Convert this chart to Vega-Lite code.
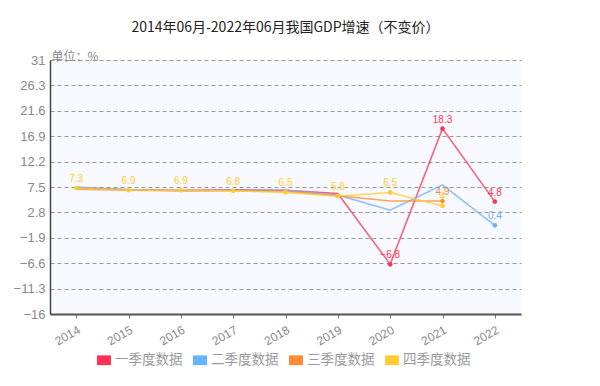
{
  "$schema": "https://vega.github.io/schema/vega-lite/v6.json",
  "width": 471,
  "height": 254,
  "autosize": {"type": "none"},
  "padding": {"left": 50, "top": 60, "right": 79, "bottom": 72},
  "background": "#ffffff",
  "title": {
    "text": "2014年06月-2022年06月我国GDP增速（不变价）",
    "font": "Noto Sans CJK SC",
    "fontSize": 14,
    "fontWeight": "normal",
    "color": "#222222",
    "anchor": "middle",
    "offset": 15
  },
  "data": {
    "values": [
      {"year": 2014, "s": "一季度数据", "v": 7.4},
      {"year": 2015, "s": "一季度数据", "v": 7.0},
      {"year": 2016, "s": "一季度数据", "v": 6.9},
      {"year": 2017, "s": "一季度数据", "v": 7.0},
      {"year": 2018, "s": "一季度数据", "v": 6.9},
      {"year": 2019, "s": "一季度数据", "v": 6.3},
      {"year": 2020, "s": "一季度数据", "v": -6.8},
      {"year": 2021, "s": "一季度数据", "v": 18.3},
      {"year": 2022, "s": "一季度数据", "v": 4.8},
      {"year": 2014, "s": "二季度数据", "v": 7.5},
      {"year": 2015, "s": "二季度数据", "v": 7.0},
      {"year": 2016, "s": "二季度数据", "v": 6.8},
      {"year": 2017, "s": "二季度数据", "v": 6.9},
      {"year": 2018, "s": "二季度数据", "v": 6.9},
      {"year": 2019, "s": "二季度数据", "v": 6.0},
      {"year": 2020, "s": "二季度数据", "v": 3.2},
      {"year": 2021, "s": "二季度数据", "v": 7.9},
      {"year": 2022, "s": "二季度数据", "v": 0.4},
      {"year": 2014, "s": "三季度数据", "v": 7.1},
      {"year": 2015, "s": "三季度数据", "v": 6.9},
      {"year": 2016, "s": "三季度数据", "v": 6.8},
      {"year": 2017, "s": "三季度数据", "v": 6.8},
      {"year": 2018, "s": "三季度数据", "v": 6.7},
      {"year": 2019, "s": "三季度数据", "v": 5.9},
      {"year": 2020, "s": "三季度数据", "v": 4.9},
      {"year": 2021, "s": "三季度数据", "v": 4.9},
      {"year": 2014, "s": "四季度数据", "v": 7.3},
      {"year": 2015, "s": "四季度数据", "v": 6.9},
      {"year": 2016, "s": "四季度数据", "v": 6.9},
      {"year": 2017, "s": "四季度数据", "v": 6.8},
      {"year": 2018, "s": "四季度数据", "v": 6.5},
      {"year": 2019, "s": "四季度数据", "v": 5.8},
      {"year": 2020, "s": "四季度数据", "v": 6.5},
      {"year": 2021, "s": "四季度数据", "v": 4.0}
    ]
  },
  "encoding": {
    "x": {
      "field": "year",
      "type": "ordinal",
      "scale": {"type": "point", "padding": 0.5},
      "axis": {
        "title": null,
        "labelAngle": -30,
        "labelAlign": "right",
        "labelBaseline": "top",
        "labelColor": "#888888",
        "labelFont": "Liberation Sans",
        "labelFontSize": 12,
        "labelPadding": 6,
        "domainColor": "#555555",
        "domainWidth": 2,
        "tickColor": "#777777",
        "tickSize": 4,
        "grid": false
      }
    },
    "y": {
      "field": "v",
      "type": "quantitative",
      "scale": {"domain": [-16, 31], "nice": false, "zero": false},
      "axis": {
        "title": "单位：%",
        "titleAngle": 0,
        "titleAlign": "left",
        "titleBaseline": "middle",
        "titleX": 1,
        "titleY": -4,
        "titleFont": "Noto Sans CJK SC",
        "titleFontSize": 12,
        "titleFontWeight": "normal",
        "titleColor": "#888888",
        "values": [31, 26.3, 21.6, 16.9, 12.2, 7.5, 2.8, -1.9, -6.6, -11.3, -16],
        "format": ".1~f",
        "labelColor": "#888888",
        "labelFont": "Liberation Sans",
        "labelFontSize": 13,
        "labelPadding": 5,
        "ticks": false,
        "domainColor": "#444444",
        "domainWidth": 1.5,
        "grid": true,
        "gridColor": "#999999",
        "gridDash": [4, 3],
        "gridWidth": 1
      }
    },
    "color": {
      "field": "s",
      "type": "nominal",
      "sort": ["一季度数据", "二季度数据", "三季度数据", "四季度数据"],
      "scale": {
        "domain": ["一季度数据", "二季度数据", "三季度数据", "四季度数据"],
        "range": ["#ff3352", "#66b3ff", "#ff8c33", "#ffcc33"]
      },
      "legend": {
        "title": null,
        "orient": "none",
        "direction": "horizontal",
        "legendX": 47,
        "legendY": 293,
        "symbolType": "M-1,-0.7L1,-0.7L1,0.7L-1,0.7Z",
        "symbolSize": 196,
        "symbolStrokeWidth": 0,
        "symbolOpacity": 1,
        "labelFont": "Noto Sans CJK SC",
        "labelFontSize": 13.5,
        "labelColor": "#999999",
        "labelOffset": 4,
        "columnPadding": 10
      }
    }
  },
  "layer": [
    {
      "mark": {"type": "line", "strokeWidth": 1.5, "opacity": 0.8}
    },
    {
      "transform": [
        {"filter": "datum.s == '四季度数据' || (datum.s == '一季度数据' && datum.year >= 2020) || (datum.s == '二季度数据' && datum.year == 2022) || (datum.s == '三季度数据' && datum.year == 2021)"}
      ],
      "mark": {"type": "point", "filled": true, "size": 22, "opacity": 1},
      "encoding": {}
    },
    {
      "transform": [
        {"filter": "datum.s == '四季度数据' || (datum.s == '一季度数据' && datum.year >= 2020) || (datum.s == '二季度数据' && datum.year == 2022) || (datum.s == '三季度数据' && datum.year == 2021)"}
      ],
      "mark": {"type": "text", "dy": -9, "fontSize": 10, "font": "Liberation Sans"},
      "encoding": {"text": {"field": "v", "type": "quantitative"}}
    }
  ],
  "config": {
    "view": {"fill": "#f8f9fe", "stroke": null},
    "font": "Liberation Sans"
  }
}
